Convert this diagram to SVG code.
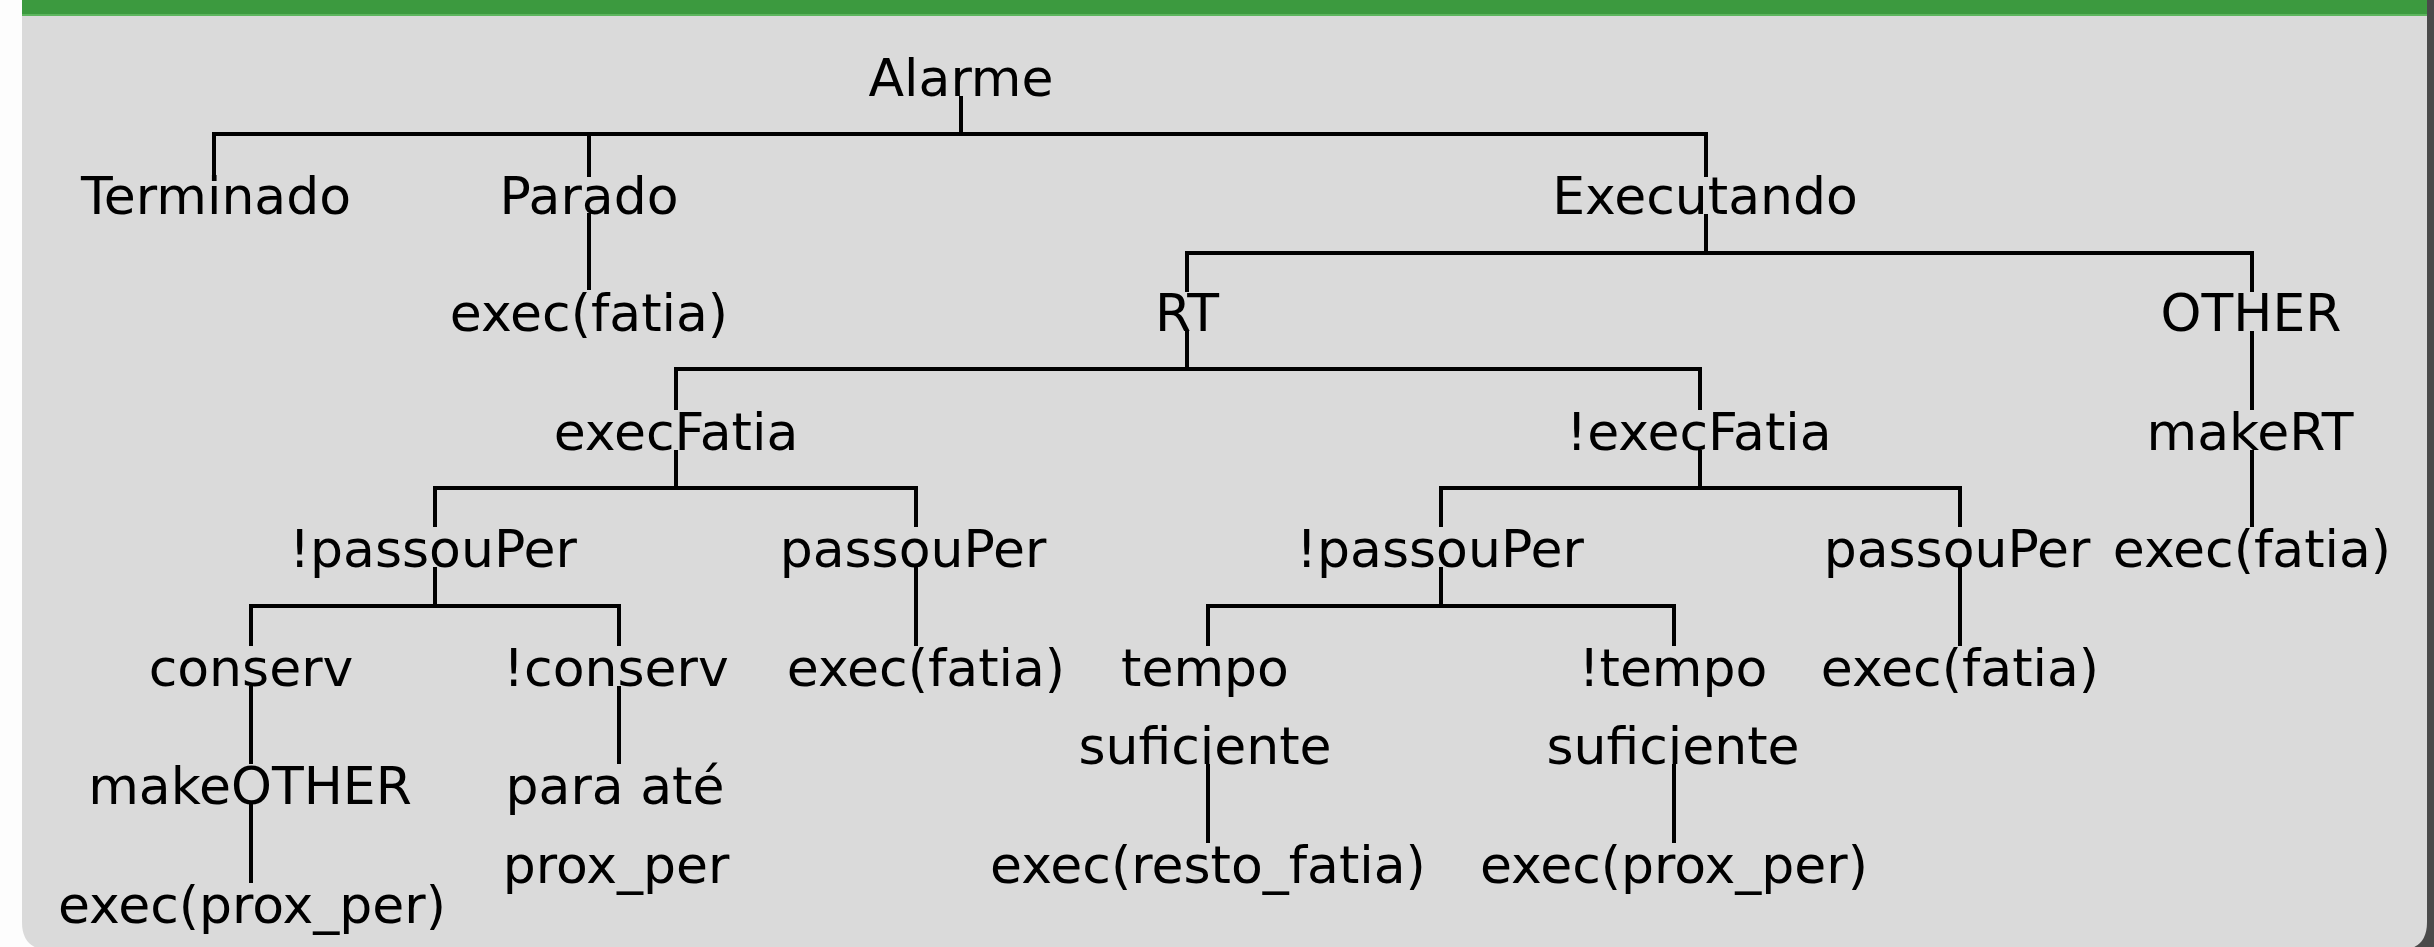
<svg xmlns="http://www.w3.org/2000/svg" width="2434" height="947" viewBox="0 0 2434 947">
<defs>
<style>
.t{font-family:"DejaVu Sans","Verdana",sans-serif;font-size:52px;fill:#000;text-anchor:middle}
.c{fill:none;stroke:#000;stroke-width:4;stroke-linecap:butt;stroke-linejoin:miter}
</style>
</defs>
<rect x="0" y="0" width="2434" height="947" fill="#fdfdfd"/>
<rect x="2405" y="0" width="29" height="947" fill="#4a4a4a"/>
<path d="M22 0 H2427 V922 Q2427 950 2399 950 H50 Q22 950 22 922 Z" fill="#dadada"/>
<rect x="22" y="0" width="2405" height="15" fill="#3c9a3f"/>
<rect x="22" y="14" width="2405" height="2" fill="#5db55e"/>

<g id="connectors" class="c">
<path d="M961 96 V134"/>
<path d="M214 177 V134 H1706 V177"/>
<path d="M589 134 V177"/>
<path d="M589 213 V290"/>
<path d="M1706 214 V253"/>
<path d="M1187 292 V253 H2252 V292"/>
<path d="M1187 331 V369"/>
<path d="M676 410 V369 H1700 V410"/>
<path d="M2252 331 V410"/>
<path d="M2252 450 V527"/>
<path d="M676 450 V488"/>
<path d="M435 527 V488 H916 V527"/>
<path d="M1700 450 V488"/>
<path d="M1441 527 V488 H1960 V527"/>
<path d="M435 567 V606"/>
<path d="M251 646 V606 H619 V646"/>
<path d="M916 567 V646"/>
<path d="M1441 567 V606"/>
<path d="M1208 646 V606 H1674 V646"/>
<path d="M1960 567 V646"/>
<path d="M251 686 V764"/>
<path d="M251 804 V883"/>
<path d="M619 686 V764"/>
<path d="M1208 764 V843"/>
<path d="M1674 764 V843"/>
</g>

<g id="alarme"><text class="t" x="961" y="96">Alarme</text></g>
<g id="terminado"><text class="t" x="216" y="214">Terminado</text></g>
<g id="parado"><text class="t" x="589" y="214">Parado</text></g>
<g id="parado-exec"><text class="t" x="589" y="331">exec(fatia)</text></g>
<g id="executando"><text class="t" x="1705" y="214">Executando</text></g>
<g id="rt"><text class="t" x="1187" y="331">RT</text></g>
<g id="other"><text class="t" x="2251" y="331">OTHER</text></g>
<g id="makert"><text class="t" x="2250" y="450">makeRT</text></g>
<g id="other-exec"><text class="t" x="2252" y="567">exec(fatia)</text></g>
<g id="execfatia"><text class="t" x="676" y="450">execFatia</text></g>
<g id="nexecfatia"><text class="t" x="1699" y="450">!execFatia</text></g>
<g id="npassouper-l"><text class="t" x="433" y="567">!passouPer</text></g>
<g id="passouper-l"><text class="t" x="913" y="567">passouPer</text></g>
<g id="passouper-l-exec"><text class="t" x="926" y="686">exec(fatia)</text></g>
<g id="npassouper-r"><text class="t" x="1440" y="567">!passouPer</text></g>
<g id="passouper-r"><text class="t" x="1957" y="567">passouPer</text></g>
<g id="passouper-r-exec"><text class="t" x="1960" y="686">exec(fatia)</text></g>
<g id="conserv"><text class="t" x="251" y="686">conserv</text></g>
<g id="makeother"><text class="t" x="250" y="804">makeOTHER</text></g>
<g id="exec-prox-l"><text class="t" x="252" y="923">exec(prox_per)</text></g>
<g id="nconserv"><text class="t" x="616" y="686">!conserv</text></g>
<g id="para-ate"><text class="t" x="615" y="804">para até</text><text class="t" x="616" y="883">prox_per</text></g>
<g id="tempo"><text class="t" x="1205" y="686">tempo</text><text class="t" x="1205" y="764">suficiente</text></g>
<g id="exec-resto"><text class="t" x="1208" y="883">exec(resto_fatia)</text></g>
<g id="ntempo"><text class="t" x="1673" y="686">!tempo</text><text class="t" x="1673" y="764">suficiente</text></g>
<g id="exec-prox-r"><text class="t" x="1674" y="883">exec(prox_per)</text></g>
</svg>
